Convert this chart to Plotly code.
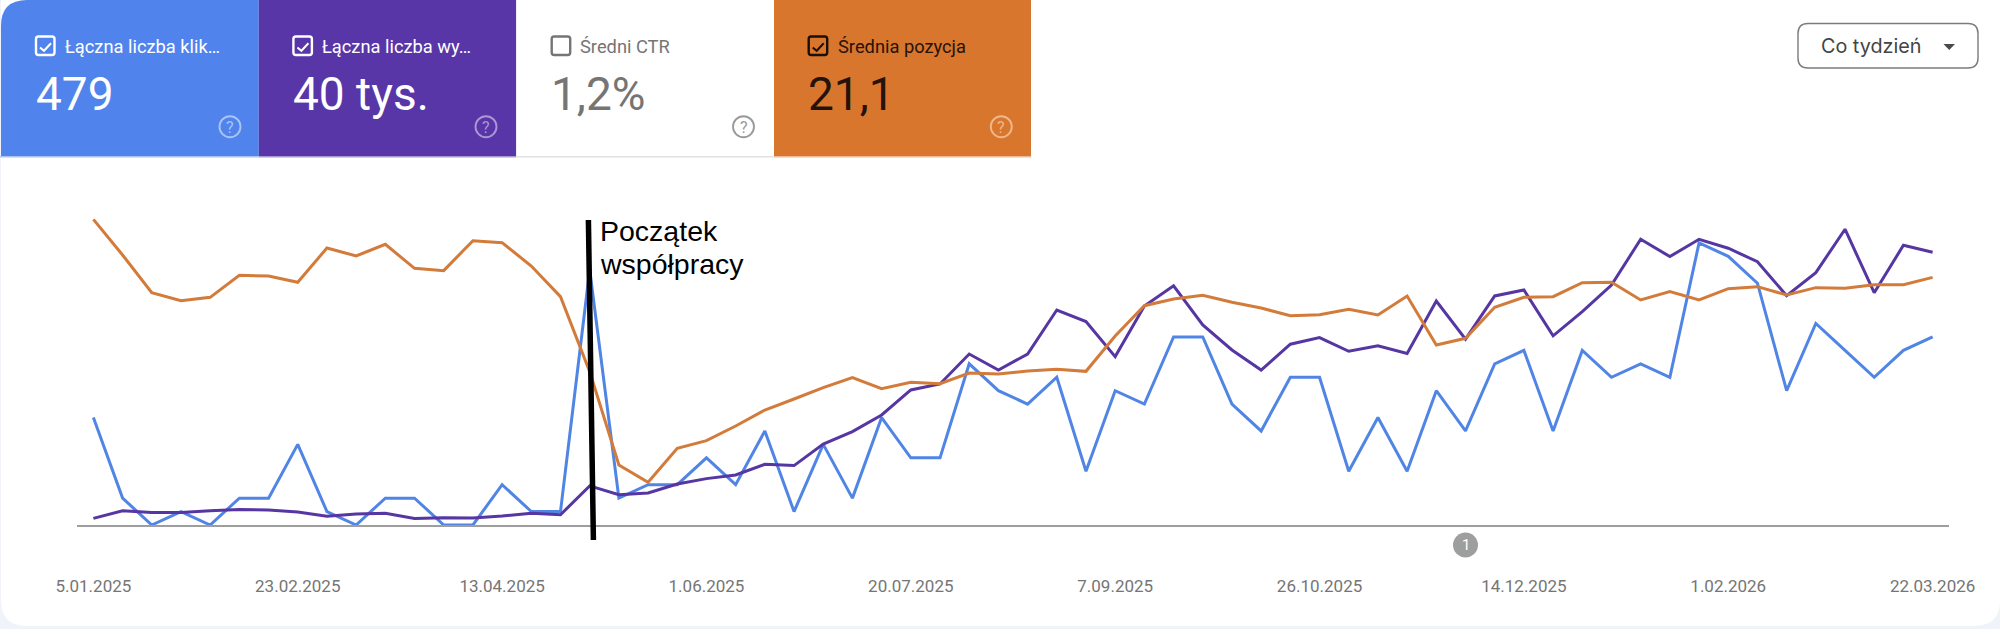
import pandas as pd
import plotly.graph_objects as go

# Data
weeks = pd.date_range("2025-01-05", periods=64, freq="7D")
clicks = [8, 2, 0, 1, 0, 2, 2, 6, 1, 0,
          2, 2, 0, 0, 3, 1, 1, 19, 2, 3,
          3, 5, 3, 7, 1, 6, 2, 8, 5, 5,
          12, 10, 9, 11, 4, 10, 9, 14, 14, 9,
          7, 11, 11, 4, 8, 4, 10, 7, 12, 13,
          7, 13, 11, 12, 11, 21, 20, 18, 10, 15,
          13, 11, 13, 14]
impressions = [31, 67, 59, 59, 67, 73, 70, 61, 41, 51,
               55, 30, 34, 33, 42, 55, 48, 183, 142, 150,
               192, 217, 234, 284, 278, 379, 437, 515, 632, 660,
               800, 725, 800, 1006, 952, 788, 1025, 1119, 936, 819,
               725, 846, 877, 813, 839, 803, 1048, 870, 1072, 1100,
               885, 998, 1123, 1337, 1256, 1337, 1295, 1232, 1073, 1181,
               1384, 1087, 1309, 1276]
position = [6.4, 11.75, 17.4, 18.6, 18.1, 14.8, 14.9, 15.85, 10.7, 11.9,
            10.15, 13.75, 14.1, 9.6, 9.9, 13.4, 18, 29.25, 43.25, 45.85,
            40.75, 39.6, 37.4, 35, 33.35, 31.65, 30.15, 31.8, 30.85, 31.05,
            29.45, 29.6, 29.15, 28.9, 29.2, 23.9, 19.35, 18.35, 17.8, 18.85,
            19.7, 20.85, 20.7, 19.9, 20.75, 17.9, 25.25, 24.25, 19.6, 18.1,
            18, 15.9, 15.85, 18.5, 17.25, 18.5, 16.8, 16.5, 17.75, 16.65,
            16.75, 16.2, 16.2, 15.1]
tick_labels = ["5.01.2025", "23.02.2025", "13.04.2025", "1.06.2025", "20.07.2025",
               "7.09.2025", "26.10.2025", "14.12.2025", "1.02.2026", "22.03.2026"]
card_titles = ["Łączna liczba klik…", "Łączna liczba wy…", "Średni CTR", "Średnia pozycja"]
card_values = ["479", "40 tys.", "1,2%", "21,1"]
card_checked = [True, True, False, True]

# Page geometry (pixels)
W, H = 2000, 629
ML, MR, MT, MB = 77, 51, 210, 104


def X(px):
    return (px - ML) / (W - ML - MR)


def Y(py):
    return (H - MB - py) / (H - MT - MB)


def rounded(x0, y0, x1, y1, r):
    return (f"M{X(x0 + r)},{Y(y0)} L{X(x1 - r)},{Y(y0)} Q{X(x1)},{Y(y0)} {X(x1)},{Y(y0 + r)} "
            f"L{X(x1)},{Y(y1 - r)} Q{X(x1)},{Y(y1)} {X(x1 - r)},{Y(y1)} "
            f"L{X(x0 + r)},{Y(y1)} Q{X(x0)},{Y(y1)} {X(x0)},{Y(y1 - r)} "
            f"L{X(x0)},{Y(y0 + r)} Q{X(x0)},{Y(y0)} {X(x0 + r)},{Y(y0)} Z")


def label(px, py, text, size, color, anchor="left", family="Roboto"):
    return dict(xref="paper", yref="paper", x=X(px), y=Y(py), text=text, showarrow=False,
                xanchor=anchor, yanchor="middle", font=dict(family=family, size=size, color=color))


BLUE = "#5084ec"
PURPLE = "#5936a8"
ORANGE = "#d9762d"
card_fill = [BLUE, PURPLE, "#ffffff", ORANGE]
card_line = ["#a9c3f5", "#ab97d3", "#e2e2e2", "#ecbb95"]
card_text = ["#ffffff", "#ffffff", "#757575", "#25130a"]
box_color = ["#ffffff", "#ffffff", "#757575", "#1c0f08"]
help_color = ["#a9c3f5", "#ab97d3", "#9a9a9a", "#efb78c"]
card_x = [0, 258.8, 516.3, 774, 1031]
box_x = [36, 293.4, 551.7, 808.7]
title_x = [63, 319.5, 577.5, 835.5]
help_x = [230, 486, 743.5, 1001.3]

shapes = [dict(type="path", xref="paper", yref="paper", layer="below",
               path=rounded(1, -30, 2000, 626, 26), fillcolor="#ffffff", line_width=0)]
annotations = []
for i in range(4):
    x0 = card_x[i]
    x1 = card_x[i + 1]
    if i == 0:
        # first card follows the rounded corner of the panel
        path = (f"M{X(1)},{Y(156)} L{X(1)},{Y(26)} Q{X(1)},{Y(0)} {X(27)},{Y(0)} "
                f"L{X(x1)},{Y(0)} L{X(x1)},{Y(156)} Z")
        shapes.append(dict(type="path", xref="paper", yref="paper", layer="below",
                           path=path, fillcolor=card_fill[i], line_width=0))
    else:
        shapes.append(dict(type="rect", xref="paper", yref="paper", layer="below",
                           x0=X(x0), x1=X(x1), y0=Y(156), y1=Y(0),
                           fillcolor=card_fill[i], line_width=0))
    shapes.append(dict(type="rect", xref="paper", yref="paper", layer="below",
                       x0=X(x0), x1=X(x1), y0=Y(157.5), y1=Y(156),
                       fillcolor=card_line[i], line_width=0))
    bx = box_x[i]
    shapes.append(dict(type="path", xref="paper", yref="paper",
                       path=rounded(bx, 36.5, bx + 18.5, 55, 2.5),
                       line=dict(color=box_color[i], width=2.4)))
    if card_checked[i]:
        shapes.append(dict(type="path", xref="paper", yref="paper",
                           path=(f"M{X(bx + 4)},{Y(47.5)} L{X(bx + 8)},{Y(50.8)} "
                                 f"L{X(bx + 15)},{Y(43.3)}"),
                           line=dict(color=box_color[i], width=2)))
    annotations.append(label(title_x[i], 46.5, card_titles[i], 18.3, card_text[i]))
    annotations.append(label(bx - 2.5, 94, card_values[i], 46, card_text[i]))
    hx = help_x[i]
    shapes.append(dict(type="circle", xref="paper", yref="paper",
                       x0=X(hx - 10.5), x1=X(hx + 10.5), y0=Y(137.2), y1=Y(116.2),
                       line=dict(color=help_color[i], width=1.9)))
    annotations.append(label(hx, 127, "?", 16, help_color[i], anchor="center"))

# Period dropdown
shapes.append(dict(type="path", xref="paper", yref="paper",
                   path=rounded(1798, 23.5, 1978, 68, 10), fillcolor="#ffffff",
                   line=dict(color="#7b7b7b", width=1.4)))
shapes.append(dict(type="path", xref="paper", yref="paper",
                   path=f"M{X(1943.5)},{Y(44)} L{X(1955)},{Y(44)} L{X(1949.2)},{Y(50)} Z",
                   fillcolor="#4a4a4a", line_width=0))
annotations.append(label(1871, 46, "Co tydzień", 19.8, "#444444", anchor="center", family="Inter"))

# Hand-drawn marker and its note
shapes.append(dict(type="line", xref="paper", yref="paper", x0=X(588.4), y0=Y(220),
                   x1=X(593.4), y1=Y(540), line=dict(color="#000000", width=5.5)))
annotations.append(label(597.5, 230.5, "Początek", 28.5, "#000000", family="Liberation Sans"))
annotations.append(label(597.5, 264, "współpracy", 28.5, "#000000", family="Liberation Sans"))

# Annotation badge under the axis
shapes.append(dict(type="circle", xref="paper", yref="paper", x0=X(1453), x1=X(1478),
                   y0=Y(557.5), y1=Y(532.5), fillcolor="#9e9e9e", line_width=0))
annotations.append(label(1465.5, 545, "1", 15, "#ffffff", anchor="center"))

fig = go.Figure()
fig.add_trace(go.Scatter(x=weeks, y=clicks, mode="lines", name="Kliknięcia", yaxis="y",
                         line=dict(color="#5085e6", width=3)))
fig.add_trace(go.Scatter(x=weeks, y=position, mode="lines", name="Pozycja", yaxis="y3",
                         line=dict(color="#d27b3a", width=3)))
fig.add_trace(go.Scatter(x=weeks, y=impressions, mode="lines", name="Wyświetlenia", yaxis="y2",
                         line=dict(color="#5636a2", width=3)))

hidden = dict(visible=False, showgrid=False, zeroline=False)
fig.update_layout(
    width=W, height=H, margin=dict(l=ML, r=MR, t=MT, b=MB),
    paper_bgcolor="#f0f4fa", plot_bgcolor="rgba(0,0,0,0)", showlegend=False,
    xaxis=dict(range=[weeks[0] - pd.Timedelta(days=3.93), weeks[-1] + pd.Timedelta(days=3.93)],
               tickvals=list(weeks[::7]), ticktext=tick_labels, showgrid=False, zeroline=False,
               showline=True, linecolor="#9e9e9e", linewidth=1.5,
               ticks="outside", ticklen=45, tickcolor="rgba(0,0,0,0)",
               tickfont=dict(family="Roboto", size=17, color="#757575")),
    yaxis=dict(range=[0, 23.45], **hidden),
    yaxis2=dict(range=[0, 1474], overlaying="y", **hidden),
    yaxis3=dict(range=[52.25, 5], overlaying="y", **hidden),
    shapes=shapes, annotations=annotations,
)

fig.write_html("out.html", config=dict(displayModeBar=False),
               post_script="document.body.style.margin='0';")
